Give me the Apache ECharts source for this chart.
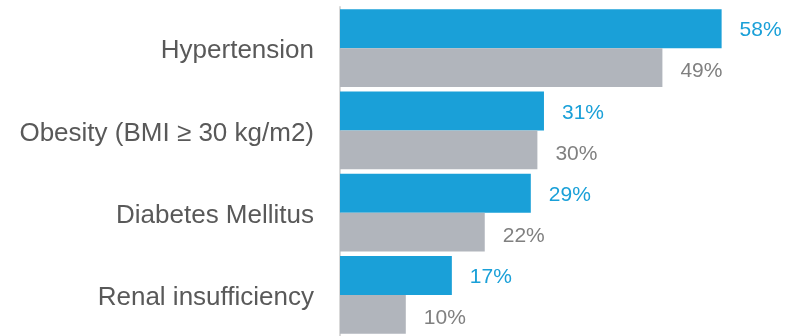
<!DOCTYPE html>
<html>
<head>
<meta charset="utf-8">
<script src="https://cdn.jsdelivr.net/npm/echarts@6/dist/echarts.min.js"></script>
<style>
html,body{margin:0;padding:0;background:#fff;}
#chart{width:794px;height:336px;}
</style>
</head>
<body>
<div id="chart"></div>
<script>
var categories = ['Hypertension', 'Obesity (BMI \u2265 30 kg/m2)', 'Diabetes Mellitus', 'Renal insufficiency'];
var blueValues = [58, 31, 29, 17];
var grayValues = [49, 30, 22, 10];

var chart = echarts.init(document.getElementById('chart'), null, {renderer: 'canvas'});
var fontFam = '"Liberation Sans", Arial, sans-serif';
chart.setOption({
  animation: false,
  grid: {left: 340, top: 7, right: 0, height: 331, containLabel: false},
  xAxis: {
    type: 'value', min: 0, max: 69, show: false,
    splitLine: {show: false}
  },
  yAxis: {
    type: 'category', data: categories, inverse: true,
    axisLine: {show: true, lineStyle: {color: '#d9d9d9', width: 2}},
    axisTick: {show: false},
    axisLabel: {
      margin: 26,
      formatter: function (v) { return '{a|' + v + '}'; },
      rich: {a: {color: '#595959', fontSize: 26, fontFamily: fontFam, padding: [6, 0, 0, 0]}}
    }
  },
  series: [
    {
      type: 'bar', data: blueValues, barGap: '0%', barCategoryGap: '5.4%',
      itemStyle: {color: '#1aa0d8'},
      label: {show: true, position: 'right', distance: 18, formatter: '{c}%', offset: [0, 2],
              color: '#1aa0d8', fontSize: 21, fontFamily: fontFam}
    },
    {
      type: 'bar', data: grayValues, barGap: '0%', barCategoryGap: '5.4%',
      itemStyle: {color: '#b1b5bc'},
      label: {show: true, position: 'right', distance: 18, formatter: '{c}%', offset: [0, 4],
              color: '#808080', fontSize: 21, fontFamily: fontFam}
    }
  ]
});
</script>
</body>
</html>
